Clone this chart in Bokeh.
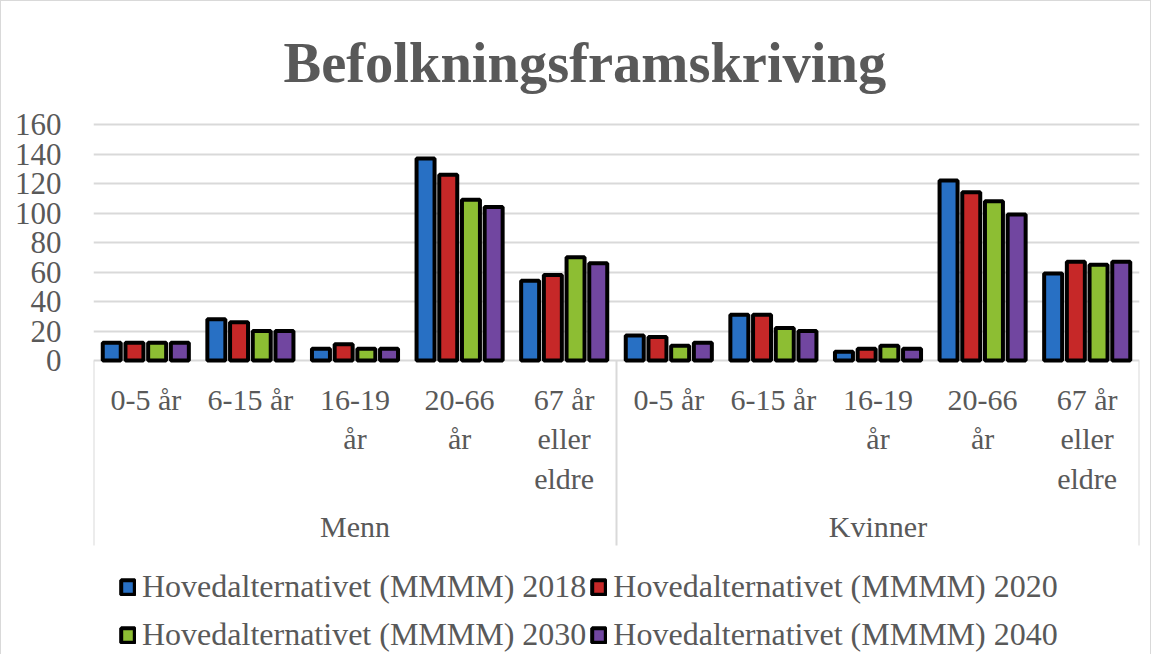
from bokeh.plotting import figure
from bokeh.models import (FactorRange, Range1d, FixedTicker, Legend, LegendItem,
                          ColumnDataSource, Title)
from bokeh.transform import dodge
from bokeh.core.properties import value
from bokeh.embed import file_html
from bokeh.resources import INLINE

# ---------------- data ----------------
groups = ["Menn", "Kvinner"]
ages = ["0-5 år", "6-15 år", "16-19 år", "20-66 år", "67 år eller eldre"]
age_labels = ["0-5 år", "6-15 år", "16-19\når", "20-66\når", "67 år\neller\neldre"]
series = ["Hovedalternativet (MMMM) 2018", "Hovedalternativet (MMMM) 2020",
          "Hovedalternativet (MMMM) 2030", "Hovedalternativet (MMMM) 2040"]
v2018 = [12, 28, 8, 137, 54, 17, 31, 6, 122, 59]
v2020 = [12, 26, 11, 126, 58, 16, 31, 8, 114, 67]
v2030 = [12, 20, 8, 109, 70, 10, 22, 10, 108, 65]
v2040 = [12, 20, 8, 104, 66, 12, 20, 8, 99, 67]
yticks = [0, 20, 40, 60, 80, 100, 120, 140, 160]
colors = ["#2870C4", "#C62828", "#8DBE33", "#7146A0"]

GREY = "#595959"
FONT = "Liberation Serif"

factors = [(g, a) for g in groups for a in ages]
src = ColumnDataSource(dict(x=factors, v2018=v2018, v2020=v2020,
                            v2030=v2030, v2040=v2040))

# pixel layout helpers
K = 236 / 160.0           # px per data unit on y
ZERO_PAGE = 367           # page y of value 0
FRAME_TOP = 112
FRAME_BOTTOM = 662

def py(page_y):
    return -(page_y - ZERO_PAGE) / K

p = figure(width=1151, height=654, output_backend="svg", toolbar_location=None,
           x_range=FactorRange(*factors, factor_padding=0, group_padding=0,
                               range_padding=0),
           y_range=Range1d(py(FRAME_BOTTOM), py(FRAME_TOP)),
           min_border_left=92, min_border_right=13,
           min_border_top=FRAME_TOP - 8, min_border_bottom=0,
           x_axis_location=None, title=None)
p.styles = {"border-left": "1px solid #d9d9d9", "border-right": "1px solid #d9d9d9",
            "border-top": "1px solid #d9d9d9", "box-sizing": "border-box"}
p.outline_line_color = None
p.background_fill_color = "white"
p.border_fill_color = "white"

t = Title(text="Befolkningsframskriving", align="left", offset=190,
          text_font_size="56.5px", text_font=FONT, text_font_style="bold",
          text_color=GREY, standoff=24)
p.add_layout(t, "above")

# y axis
p.yaxis.ticker = FixedTicker(ticks=yticks)
p.yaxis.axis_line_color = None
p.yaxis.major_tick_line_color = None
p.yaxis.minor_tick_line_color = None
p.yaxis.major_label_standoff = 26
p.yaxis.major_label_text_font = FONT
p.yaxis.major_label_text_font_size = "31px"
p.yaxis.major_label_text_color = GREY
p.xgrid.visible = False
p.ygrid.ticker = FixedTicker(ticks=yticks)
p.ygrid.grid_line_color = "#d9d9d9"
p.ygrid.grid_line_width = 2

# separators of category axis
p.segment(x0=[0, 5, 10], y0=[0, 0, 0], x1=[0, 5, 10], y1=[py(552)] * 3,
          line_color="#d9d9d9", line_width=2)

# bars
pitch = 0.217
offsets = [-1.5 * pitch, -0.5 * pitch, 0.5 * pitch, 1.5 * pitch]
cols = ["v2018", "v2020", "v2030", "v2040"]
renderers = []
for col, off, c in zip(cols, offsets, colors):
    r = p.vbar(x=dodge("x", off, range=p.x_range), top=col, bottom=0,
               width=0.172, source=src, fill_color=c, line_color="black",
               line_width=4)
    renderers.append(r)

# category labels
lab_x = factors
lab_t = age_labels * len(groups)
p.text(x=lab_x, y=[py(389)] * len(lab_x), text=lab_t, text_align="center",
       text_baseline="top", text_font=value(FONT), text_font_size="30px",
       text_color=GREY, text_line_height=1.2)
p.text(x=groups, y=[py(533)] * 2, text=groups, text_align="center",
       text_baseline="middle", text_font=value(FONT), text_font_size="30px",
       text_color=GREY)

# legends (two rows)
def make_legend(idx, loc):
    lg = Legend(items=[LegendItem(label=series[i], renderers=[renderers[i]])
                       for i in idx],
                orientation="horizontal", location=loc,
                glyph_width=17, glyph_height=18, label_standoff=6,
                label_text_font=FONT, label_text_font_size="32px",
                label_text_color=GREY, label_height=30, spacing=4,
                padding=0, margin=0, border_line_color=None,
                background_fill_alpha=0)
    return lg

p.add_layout(make_legend([0, 1], (26, 50)), "center")
p.add_layout(make_legend([2, 3], (26, 2)), "center")

open("out.html", "w").write(file_html(p, INLINE))
